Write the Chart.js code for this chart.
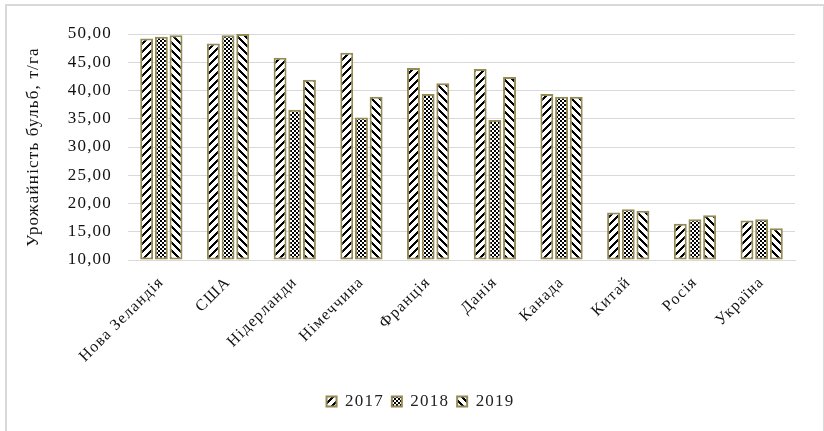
<!DOCTYPE html>
<html>
<head>
<meta charset="utf-8">
<script src="https://cdn.jsdelivr.net/npm/chart.js@4.4.1/dist/chart.umd.min.js"></script>
<style>
  body { margin: 0; background: #fff; }
  #frame { position: absolute; left: 5px; top: 4px; width: 816px; height: 440px; border: 2px solid #d9d9d9; }
  #chart-container { position: absolute; left: 0; top: 0; width: 824px; height: 431px; }
</style>
</head>
<body>
<div id="frame"></div>
<div id="chart-container"><canvas id="yieldChart"></canvas></div>
<script>
// Categories and values (t/ha)
const countries = ["Нова Зеландія", "США", "Нідерланди", "Німеччина", "Франція", "Данія", "Канада", "Китай", "Росія", "Україна"];
const years = ["2017", "2018", "2019"];
const yield2017 = [49.2, 48.3, 45.8, 46.7, 44.0, 43.8, 39.4, 18.4, 16.4, 17.0];
const yield2018 = [49.5, 49.8, 36.6, 35.2, 39.4, 34.8, 38.9, 19.0, 17.2, 17.2];
const yield2019 = [49.8, 50.0, 41.9, 38.9, 41.3, 42.4, 38.9, 18.7, 17.9, 15.6];
const yTicks = [10, 15, 20, 25, 30, 35, 40, 45, 50];

const olive = "#948a54";
const font = "'Liberation Serif', 'Times New Roman', serif";

// Build 8x8 hatch patterns like Excel fills
function makePattern(test) {
    const c = document.createElement("canvas");
    c.width = 8; c.height = 8;
    const p = c.getContext("2d");
    p.fillStyle = "#fff";
    p.fillRect(0, 0, 8, 8);
    p.fillStyle = "#000";
    for (let x = 0; x < 8; x++) {
        for (let y = 0; y < 8; y++) {
            if (test(x, y)) p.fillRect(x, y, 1, 1);
        }
    }
    return p.createPattern(c, "repeat");
}

const upDiag = makePattern((x, y) => ((x + y) % 8) < 3);
const checker = makePattern((x, y) => (Math.floor(x / 2) + Math.floor(y / 2)) % 2 === 0);
const downDiag = makePattern((x, y) => ((((x - y) % 8) + 8) % 8) < 3);

const seriesValues = [yield2017, yield2018, yield2019];
const fills = [upDiag, checker, downDiag];

const datasets = years.map((yr, i) => ({
    label: yr,
    data: seriesValues[i],
    backgroundColor: fills[i],
    borderColor: olive,
    borderWidth: 2,
    borderSkipped: false,
    base: 10,
    categoryPercentage: 0.66,
    barPercentage: 0.88
}));

// Excel's text is a bit spaced out, mimic that
const spacing = {
    id: "spacing",
    beforeLayout: (chart) => { chart.ctx.letterSpacing = "1.2px"; },
    beforeDraw: (chart) => { chart.ctx.letterSpacing = "1.2px"; },
    // legend sits a little right of centre in the original
    afterLayout: (chart) => { chart.legend.left += 20; chart.legend.right += 20; }
};

const ctx = document.getElementById("yieldChart").getContext("2d");

new Chart(ctx, {
    type: "bar",
    data: { labels: countries, datasets: datasets },
    plugins: [spacing],
    options: {
        responsive: true,
        maintainAspectRatio: false,
        animation: false,
        layout: { padding: { top: 34, right: 29, bottom: 11, left: 6 } },
        plugins: {
            legend: {
                position: "bottom",
                labels: {
                    boxWidth: 10,
                    boxHeight: 10,
                    padding: 8,
                    color: "#222",
                    font: { family: font, size: 17 }
                }
            },
            tooltip: { enabled: false }
        },
        scales: {
            x: {
                grid: { display: false, drawTicks: false },
                border: { color: "#d9d9d9" },
                ticks: {
                    color: "#111",
                    maxRotation: 45,
                    minRotation: 45,
                    autoSkip: false,
                    padding: 13,
                    font: { family: font, size: 16 }
                },
                afterFit: (s) => { s.height = 125; s.paddingLeft = 0; s.paddingRight = 0; }
            },
            y: {
                min: 10,
                max: 50,
                afterBuildTicks: (s) => { s.ticks = yTicks.map(v => ({ value: v })); },
                grid: { color: "#d9d9d9", lineWidth: 1, drawTicks: false },
                border: { display: false },
                ticks: {
                    color: "#111",
                    padding: 16,
                    font: { family: font, size: 17 },
                    callback: (v) => v.toFixed(2).replace(".", ",")
                },
                title: {
                    display: true,
                    text: "Урожайність бульб, т/га",
                    color: "#111",
                    padding: { top: 17, bottom: 4 },
                    font: { family: font, size: 17 }
                },
                afterFit: (s) => { s.width = 122; s.paddingTop = 0; s.paddingBottom = 0; }
            }
        }
    }
});
</script>
</body>
</html>
